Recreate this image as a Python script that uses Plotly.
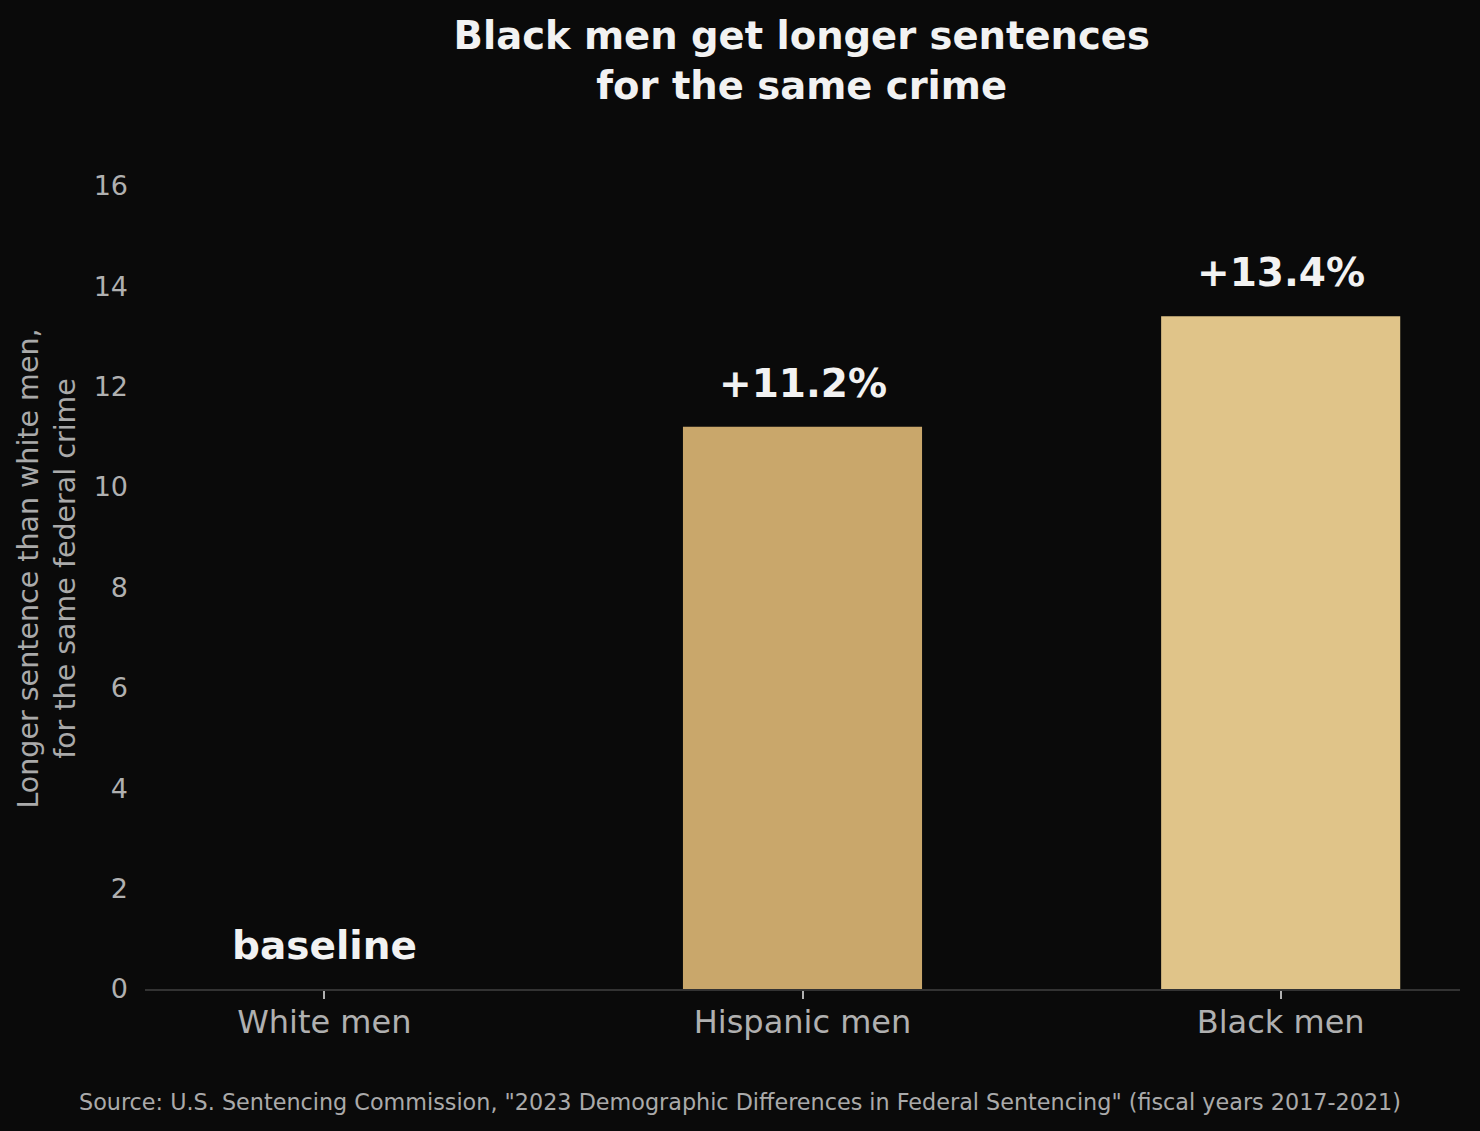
import plotly.graph_objects as go

categories = ["White men", "Hispanic men", "Black men"]
values = [0.0, 11.2, 13.4]
bar_labels = ["baseline", "+11.2%", "+13.4%"]
bar_colors = ["#0a0a0a", "#c9a76b", "#e0c489"]
y_ticks = [0, 2, 4, 6, 8, 10, 12, 14, 16]

BG = "#0a0a0a"
FONT = "DejaVu Sans"

fig = go.Figure()
fig.add_trace(go.Bar(
    x=categories, y=values, marker=dict(color=bar_colors, line=dict(width=0)),
    width=0.5, hoverinfo="skip", showlegend=False,
))

for c, v, t in zip(categories, values, bar_labels):
    fig.add_annotation(
        x=c, y=v, text=f"<b>{t}</b>", showarrow=False, yanchor="bottom", yshift=19,
        font=dict(family=FONT, size=39, color="#f2f2f2"),
    )

fig.add_annotation(
    xref="paper", yref="paper", x=0.5, y=-0.134, xanchor="center", yanchor="middle",
    text='Source: U.S. Sentencing Commission, "2023 Demographic Differences in Federal Sentencing" (fiscal years 2017-2021)',
    showarrow=False, font=dict(family=FONT, size=22.3, color="#aaaaaa"), xshift=-63,
)

fig.update_layout(
    width=1480, height=1131,
    paper_bgcolor=BG, plot_bgcolor=BG,
    margin=dict(l=145, r=20, t=148, b=142),
    title=dict(
        text="<b>Black men get longer sentences<br>for the same crime</b>",
        x=0.5417, xanchor="center", y=0.9565, yanchor="top",
        font=dict(family=FONT, size=38.5, color="#f2f2f2"),
    ),
    font=dict(family=FONT, color="#b0b0b0"),
    bargap=0.5,
)
fig.update_xaxes(
    range=[-0.375, 2.375], showgrid=False, zeroline=False,
    showline=True, linecolor="#333333", linewidth=2,
    ticks="outside", ticklen=8, tickwidth=1.5, tickcolor="#b0b0b0",
    ticklabelstandoff=-4,
    tickfont=dict(family=FONT, size=32, color="#b0b0b0"),
)
fig.update_yaxes(
    range=[0, 16.75], tickvals=y_ticks, showgrid=False, zeroline=False,
    showline=False, ticks="", ticklabelstandoff=16,
    tickfont=dict(family=FONT, size=27, color="#b0b0b0"),
    title=dict(text="Longer sentence than white men,<br>for the same federal crime",
               font=dict(family=FONT, size=28.5, color="#aaaaaa"), standoff=9),
)

fig.write_html(
    "out.html",
    config={"displayModeBar": False},
    post_script="document.body.style.margin='0';document.body.style.background='#0a0a0a';",
)
